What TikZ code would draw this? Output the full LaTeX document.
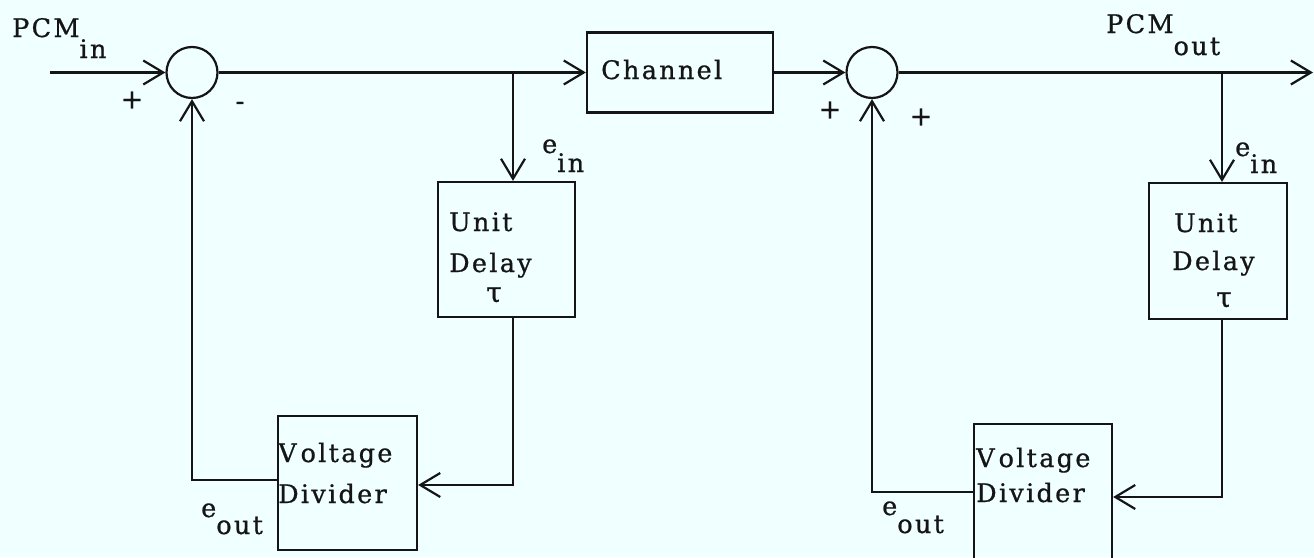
\documentclass[tikz,border=0pt]{standalone}
\usepackage{fontspec}
\setmainfont{DejaVu Serif}[LetterSpace=9,FakeBold=0.8]
\usetikzlibrary{arrows.meta,calc}
\definecolor{bgc}{HTML}{F0FFFF}
\definecolor{ink}{HTML}{151515}
\tikzset{
  wire/.style={draw=ink, line width=2.2pt},
  arr/.style={wire, -{Straight Barb[length=20pt,width=24pt]}},
  box/.style={draw=ink, line width=2.2pt, rectangle, inner sep=0pt},
  sum/.style={draw=ink, line width=2.2pt, circle, inner sep=0pt, minimum size=51pt},
  txt/.style={text=ink, inner sep=0pt, font=\fontsize{25.5}{30}\selectfont, anchor=base west},
  tau/.style={text=ink, inner sep=0pt, font=\fontsize{28}{30}\selectfont, anchor=base},
  sgn/.style={text=ink, inner sep=0pt, font=\fontsize{27}{30}\selectfont}
}
\begin{document}
\begin{tikzpicture}[x=1pt,y=-1pt]
\fill[bgc] (0,0) rectangle (1314,557);
\useasboundingbox (0,0) rectangle (1314,557);
\begin{scope}
\clip (0,0) rectangle (1314,557);
% summing junctions
\node[sum] (sumL) at (192,72.5) {};
\node[sum] (sumR) at (872,72.5) {};
% boxes
\node[box, minimum width=186pt, minimum height=80pt] (chan) at (680,72.5) {};
\node[box, minimum width=137pt, minimum height=135pt] (udL) at (506.5,249.5) {};
\node[box, minimum width=138pt, minimum height=136pt] (udR) at (1218,251) {};
\node[box, minimum width=139pt, minimum height=134pt] (vdL) at (347.5,483) {};
\node[box, minimum width=138pt, minimum height=146pt] (vdR) at (1043,497) {};
% free ends and branch points
\coordinate (inL) at (50,72.5);
\coordinate (outR) at (1313,72.5);
\coordinate (brL) at (513,72.5);
\coordinate (brR) at (1222,72.5);
% connectors
\draw[arr] (inL) -- (sumL.west);
\draw[arr] (sumL.east) -- (chan.west);
\draw[arr] (brL) -- (brL |- udL.north);
\draw[arr] (brL |- udL.south) |- ([yshift=-2pt]vdL.east);
\draw[arr] ([yshift=3pt]vdL.west) -| (sumL.south);
\draw[arr] (chan.east) -- (sumR.west);
\draw[arr] (sumR.east) -- (outR);
\draw[arr] (brR) -- (brR |- udR.north);
\draw[arr] (brR |- udR.south) |- (vdR.east);
\draw[arr] ([yshift=5pt]vdR.west) -| (sumR.south);
\end{scope}
% texts
\node[txt] (pcmin) at (12,37) {PCM\raisebox{-21pt}{in}};
\node[sgn] (pL1) at (132,100) {+};
\node[sgn] (mL) at (240,106) {-};
\node[txt] (einL) at (542,153) {e\raisebox{-19pt}{in}};
\node[txt] (chanT) at (601,79) {Channel};
\node[txt] (udLa) at (449,231) {Unit};
\node[txt] (udLb) at (449,272) {Delay};
\node[tau] (udLc) at (494,302) {τ};
\node[txt] (vdLa) at (278,462) {V\hspace{4pt}oltage};
\node[txt] (vdLb) at (278,503) {Divider};
\node[txt] (eoutL) at (201,517) {e\raisebox{-17pt}{out}};
\node[sgn] (pR1) at (830,110) {+};
\node[sgn] (pR2) at (921,117) {+};
\node[txt] (pcmout) at (1106,33) {PCM\raisebox{-22pt}{out}};
\node[txt] (einR) at (1235,156) {e\raisebox{-17pt}{in}};
\node[txt] (udRa) at (1174,232) {Unit};
\node[txt] (udRb) at (1172,270) {Delay};
\node[tau] (udRc) at (1224,307) {τ};
\node[txt] (vdRa) at (976,467) {V\hspace{4pt}oltage};
\node[txt] (vdRb) at (976,502) {Divider};
\node[txt] (eoutR) at (882,515) {e\raisebox{-18pt}{out}};
\end{tikzpicture}
\end{document}
